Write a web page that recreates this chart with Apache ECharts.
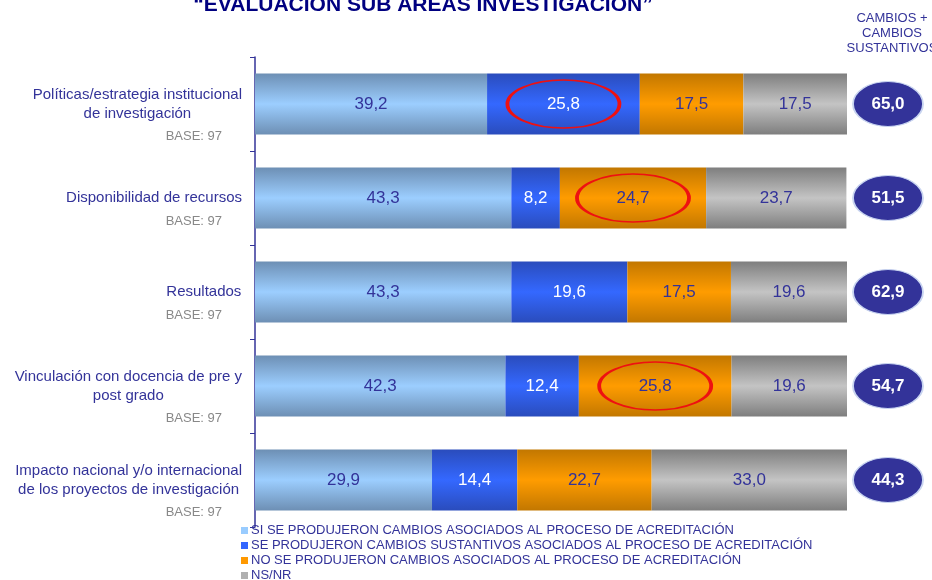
<!DOCTYPE html>
<html lang="es">
<head>
    <meta charset="UTF-8">
    <title>Evaluación sub áreas investigación</title>
    <script src="https://cdn.jsdelivr.net/npm/echarts@6/dist/echarts.min.js"></script>
    <style>
        html, body { margin: 0; padding: 0; background: #fff; }
        #main { width: 932px; height: 580px; }
    </style>
</head>
<body>
<div id="main"></div>
<script>
    // categorias (de arriba hacia abajo)
    var areas = [
        'Políticas/estrategia institucional\nde investigación',
        'Disponibilidad de recursos',
        'Resultados',
        'Vinculación con docencia de pre y\npost grado',
        'Impacto nacional y/o internacional\nde los proyectos de investigación'
    ];
    var bases = [97, 97, 97, 97, 97];

    // series
    var siCambios = [39.2, 43.3, 43.3, 42.3, 29.9];
    var sustantivos = [25.8, 8.2, 19.6, 12.4, 14.4];
    var noCambios = [17.5, 24.7, 17.5, 25.8, 22.7];
    var nsnr = [17.5, 23.7, 19.6, 19.6, 33.0];
    var totales = [65.0, 51.5, 62.9, 54.7, 44.3];   // cambios + cambios sustantivos

    // celdas marcadas con ovalo rojo: [fila, serie]
    var marcados = [[0, 1], [1, 2], [3, 2]];

    var nombres = [
        'SI SE PRODUJERON CAMBIOS ASOCIADOS AL PROCESO DE ACREDITACIÓN',
        'SE PRODUJERON CAMBIOS SUSTANTIVOS ASOCIADOS AL PROCESO DE ACREDITACIÓN',
        'NO SE PRODUJERON CAMBIOS ASOCIADOS AL PROCESO DE ACREDITACIÓN',
        'NS/NR'
    ];
    var valores = [siCambios, sustantivos, noCambios, nsnr];

    var colores = [
        {borde: '#6d8fb4', centro: '#9cceff', plano: '#99ccff', texto: '#333399'},
        {borde: '#2a4cbc', centro: '#3468ff', plano: '#3366ff', texto: '#ffffff'},
        {borde: '#c27700', centro: '#ff9c00', plano: '#ff9900', texto: '#333399'},
        {borde: '#7e7e7e', centro: '#c4c4c4', plano: '#b0b0b0', texto: '#333399'}
    ];

    function coma(v) {
        return v.toFixed(1).replace('.', ',');
    }

    var chart = echarts.init(document.getElementById('main'));

    var series = valores.map(function (vals, i) {
        var c = colores[i];
        return {
            name: nombres[i],
            type: 'bar',
            stack: 'total',
            xAxisIndex: 0,
            yAxisIndex: 0,
            barCategoryGap: '35%',
            data: vals,
            itemStyle: {
                color: new echarts.graphic.LinearGradient(0, 0, 0, 1, [
                    {offset: 0, color: c.borde},
                    {offset: 0.5, color: c.centro},
                    {offset: 1, color: c.borde}
                ])
            },
            label: {
                show: true,
                position: 'inside',
                color: c.texto,
                fontFamily: 'Liberation Sans',
                fontSize: 17,
                formatter: function (p) { return coma(p.value); }
            },
            emphasis: {disabled: true}
        };
    });

    // ovalos rojos sobre las celdas marcadas
    var ovalos = marcados.map(function (m) {
        var fila = m[0], s = m[1];
        var ini = 0;
        for (var k = 0; k < s; k++) ini += valores[k][fila];
        return [ini + valores[s][fila] / 2, fila];
    });
    series.push({
        type: 'scatter',
        xAxisIndex: 0,
        yAxisIndex: 0,
        z: 5,
        symbol: 'circle',
        symbolSize: [112, 48],
        data: ovalos,
        itemStyle: {color: 'rgba(0,0,0,0)', borderColor: '#ee1111', borderWidth: 2.5, opacity: 1},
        silent: true
    });

    // elipses de totales
    series.push({
        type: 'scatter',
        xAxisIndex: 1,
        yAxisIndex: 1,
        symbol: 'circle',
        symbolSize: [70, 45],
        data: totales.map(function (t, i) { return [0.5, i, t]; }),
        itemStyle: {color: '#333399', borderColor: '#c8d4f0', borderWidth: 1.5, opacity: 1},
        label: {
            show: true,
            position: 'inside',
            color: '#ffffff',
            fontFamily: 'Liberation Sans',
            fontWeight: 'bold',
            fontSize: 17,
            formatter: function (p) { return coma(p.value[2]); }
        },
        silent: true
    });

    // una leyenda por fila, apiladas bajo el grafico
    var leyendas = nombres.map(function (n, i) {
        return {
            orient: 'vertical',
            left: 241,
            top: 524 + i * 15,
            padding: 0,
            itemWidth: 7,
            itemHeight: 7,
            icon: 'rect',
            data: [{name: n, itemStyle: {color: colores[i].plano}}],
            textStyle: {
                color: '#333399',
                fontFamily: 'Liberation Sans',
                fontSize: 13,
                padding: [0, 0, 0, -2]
            },
            selectedMode: false
        };
    });

    var option = {
        animation: false,
        title: [{
            text: '“EVALUACION SUB AREAS INVESTIGACION”',
            left: 418,
            textAlign: 'center',
            top: -10,
            textStyle: {
                color: '#000080',
                fontFamily: 'Liberation Sans',
                fontWeight: 'bold',
                fontSize: 21
            }
        }, {
            text: 'CAMBIOS +\nCAMBIOS\nSUSTANTIVOS',
            left: 887,
            textAlign: 'center',
            top: 6,
            textStyle: {
                color: '#333399',
                fontFamily: 'Liberation Sans',
                fontWeight: 'normal',
                fontSize: 13,
                lineHeight: 15
            }
        }],
        legend: leyendas,
        grid: [
            {left: 255, right: 85, top: 57, bottom: 53},
            {left: 853, width: 70, top: 57, bottom: 53}
        ],
        xAxis: [
            {gridIndex: 0, type: 'value', min: 0, max: 100, show: false},
            {gridIndex: 1, type: 'value', min: 0, max: 1, show: false}
        ],
        yAxis: [{
            gridIndex: 0,
            type: 'category',
            inverse: true,
            data: areas,
            axisLine: {show: true, lineStyle: {color: '#333399', width: 1.5}},
            axisTick: {show: true, length: 5, lineStyle: {color: '#333399'}},
            splitLine: {show: false},
            axisLabel: {
                margin: 13,
                fontFamily: 'Liberation Sans',
                formatter: function (v, i) {
                    var lineas = v.split('\n').map(function (l) { return '{n|' + l + '}'; });
                    return '{s| }\n' + lineas.join('\n') + '\n{b|BASE: ' + bases[i] + '}';
                },
                rich: {
                    n: {fontSize: 15, color: '#333399', lineHeight: 19, align: 'center', fontFamily: 'Liberation Sans'},
                    s: {fontSize: 13, lineHeight: 27},
                    b: {fontSize: 13, color: '#888888', lineHeight: 27, align: 'right',
                        padding: [0, 20, 0, 0], fontFamily: 'Liberation Sans'}
                }
            }
        }, {
            gridIndex: 1,
            type: 'category',
            inverse: true,
            data: areas,
            show: false
        }],
        series: series
    };
    chart.setOption(option);
</script>
</body>
</html>
